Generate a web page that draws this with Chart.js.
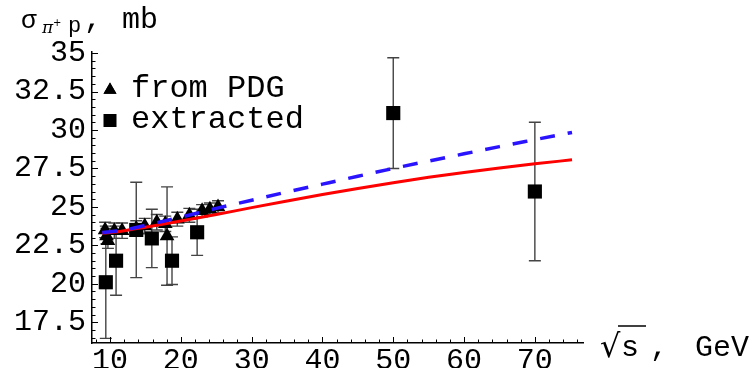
<!DOCTYPE html>
<html>
<head>
<meta charset="utf-8">
<script src="https://cdn.jsdelivr.net/npm/chart.js@4.4.1/dist/chart.umd.min.js"></script>
<style>
  html, body { margin: 0; padding: 0; background: #fff; }
  #wrap { width: 756px; height: 368px; }
</style>
</head>
<body>
<div id="wrap"><canvas id="chart" width="756" height="368"></canvas></div>
<script>
// PDG points (triangles)
const pdgX = [9.3, 9.5, 9.7, 10.6, 11.7, 13.7, 14.9, 16.6, 17.8, 18.05, 19.5, 21.2, 23.0, 24.1, 25.25];
const pdgY = [23.5, 23.1, 22.8, 23.45, 23.45, 23.6, 23.75, 24.0, 23.9, 23.1, 24.2, 24.45, 24.75, 24.85, 25.0];
const pdgErr = [0.5, 0.5, 0.5, 0.5, 0.5, 0.5, 0.5, 0.5, 0.5, 3.2, 0.45, 0.45, 0.4, 0.4, 0.4];

// extracted points (squares)
const extX = [9.4, 10.85, 13.7, 15.9, 18.75, 22.3, 50, 70];
const extY = [20.1, 21.5, 23.5, 22.95, 21.5, 23.35, 31.1, 26.0];
const extErr = [3.65, 2.25, 3.1, 1.9, 1.55, 1.5, 3.6, 4.5];

// fit curves
const curveX = [8.9, 10, 12, 15, 20, 25, 30, 35, 40, 45, 50, 55, 60, 65, 70, 75.25];
const redY = [23.3, 23.33, 23.45, 23.68, 24.08, 24.5, 24.95, 25.38, 25.8, 26.2, 26.57, 26.92, 27.24, 27.53, 27.8, 28.06];
const blueY = [23.33, 23.38, 23.5, 23.8, 24.33, 24.9, 25.43, 25.97, 26.48, 26.99, 27.5, 27.98, 28.45, 28.92, 29.37, 29.84];

const xTicks = [10, 20, 30, 40, 50, 60, 70];
const yTicks = [17.5, 20, 22.5, 25, 27.5, 30, 32.5, 35];

const mono = '"Liberation Mono", "DejaVu Sans Mono", monospace';
const blue = '#2a14ff';
const red = '#ff0000';

function pts(xs, ys) { return xs.map((x, i) => ({ x: x, y: ys[i] })); }

const extras = {
  id: 'extras',
  beforeDatasetsDraw(chart) {
    const ctx = chart.ctx, xs = chart.scales.x, ys = chart.scales.y;
    function bars(X, Y, E, cap) {
      ctx.save();
      ctx.strokeStyle = '#444';
      ctx.lineWidth = 1.4;
      X.forEach((x, i) => {
        const px = xs.getPixelForValue(x);
        const top = ys.getPixelForValue(Y[i] + E[i]);
        const bot = ys.getPixelForValue(Y[i] - E[i]);
        ctx.beginPath();
        ctx.moveTo(px, top); ctx.lineTo(px, bot);
        ctx.moveTo(px - cap, top); ctx.lineTo(px + cap, top);
        ctx.moveTo(px - cap, bot); ctx.lineTo(px + cap, bot);
        ctx.stroke();
      });
      ctx.restore();
    }
    bars(pdgX, pdgY, pdgErr, 6);
    bars(extX, extY, extErr, 6);
  },
  afterDraw(chart) {
    const ctx = chart.ctx, xs = chart.scales.x, ys = chart.scales.y;
    const a = chart.chartArea;
    ctx.save();
    // inward ticks
    ctx.strokeStyle = '#000';
    ctx.lineWidth = 1;
    ctx.beginPath();
    for (let v = 8; v <= 76; v += 2) {
      const px = Math.round(xs.getPixelForValue(v)) + 0.5;
      const len = v % 10 === 0 ? 6 : 3.5;
      ctx.moveTo(px, a.bottom); ctx.lineTo(px, a.bottom - len);
    }
    for (let v = 16.5; v <= 35; v += 0.5) {
      const py = Math.round(ys.getPixelForValue(v)) + 0.5;
      const len = (v * 2) % 5 === 0 ? 6 : 3.5;
      ctx.moveTo(a.left, py); ctx.lineTo(a.left + len, py);
    }
    ctx.stroke();

    // legend
    const ds = chart.data.datasets;
    const lx = a.left + 18;
    Chart.helpers.drawPoint(ctx, { pointStyle: 'triangle', radius: 7.5, borderWidth: 0 }, lx, 90);
    ctx.fillStyle = '#000';
    ctx.fill();
    ctx.fillRect(lx - 6.5, 114, 13, 13);
    ctx.fillStyle = '#000';
    ctx.font = '32px ' + mono;
    ctx.textBaseline = 'alphabetic';
    ctx.textAlign = 'left';
    ctx.fillText(ds[3].label, 131, 97);
    ctx.fillText(ds[2].label, 131, 128);

    // y title: sigma_{pi+ p}, mb
    ctx.font = '26px ' + mono;
    ctx.fillText('σ', 21, 28);
    ctx.font = 'italic 17px "DejaVu Serif", serif';
    ctx.fillText('π', 42, 33);
    ctx.font = '10px "DejaVu Sans", sans-serif';
    ctx.fillText('+', 53, 26);
    ctx.font = '22px ' + mono;
    ctx.fillText('p', 68, 32);
    ctx.font = '30px ' + mono;
    ctx.fillText(',', 84, 28);
    ctx.fillText('mb', 122, 28);

    // x title: sqrt(s), GeV
    ctx.font = '32px "DejaVu Sans", sans-serif';
    ctx.fillText('√', 600, 357);
    ctx.lineWidth = 1.5;
    ctx.beginPath();
    ctx.moveTo(618, 326); ctx.lineTo(646, 326);
    ctx.stroke();
    ctx.font = '30px ' + mono;
    ctx.fillText('s', 621, 356);
    ctx.fillText(',', 650, 356);
    ctx.fillText('GeV', 695, 356);
    ctx.restore();
  }
};

new Chart(document.getElementById('chart'), {
  type: 'scatter',
  data: {
    datasets: [
      {
        type: 'line',
        label: 'fit 2',
        data: pts(curveX, blueY),
        borderColor: blue,
        borderWidth: 3.5,
        borderDash: [15, 13],
        pointRadius: 0,
        cubicInterpolationMode: 'monotone',
        fill: false,
        order: 1
      },
      {
        type: 'line',
        label: 'fit 1',
        data: pts(curveX, redY),
        borderColor: red,
        borderWidth: 3,
        pointRadius: 0,
        cubicInterpolationMode: 'monotone',
        fill: false,
        order: 2
      },
      {
        label: 'extracted',
        data: pts(extX, extY),
        pointStyle: 'rect',
        pointRadius: 10,
        backgroundColor: '#000',
        borderWidth: 0,
        order: 3
      },
      {
        label: 'from PDG',
        data: pts(pdgX, pdgY),
        pointStyle: 'triangle',
        pointRadius: 8.5,
        backgroundColor: '#000',
        borderWidth: 0,
        order: 4
      }
    ]
  },
  plugins: [extras],
  options: {
    responsive: false,
    animation: false,
    devicePixelRatio: 1,
    layout: { padding: { top: 52, right: 173, left: 0, bottom: 0 } },
    plugins: {
      legend: { display: false },
      tooltip: { enabled: false }
    },
    scales: {
      x: {
        type: 'linear',
        min: 7.45,
        max: 76.8,
        afterFit: function(s) { s.height = 25; },
        afterBuildTicks: function(s) { s.ticks = xTicks.map(v => ({ value: v })); },
        grid: { display: false, drawTicks: false },
        border: { display: true, color: '#000', width: 1.5 },
        ticks: {
          color: '#000',
          font: { family: mono, size: 30 },
          padding: 0,
          maxRotation: 0,
          autoSkip: false,
          callback: function(v) { return String(v); }
        }
      },
      y: {
        type: 'linear',
        min: 16.15,
        max: 35.07,
        afterFit: function(s) { s.width = 92; },
        afterBuildTicks: function(s) { s.ticks = yTicks.map(v => ({ value: v })); },
        grid: { display: false, drawTicks: false },
        border: { display: true, color: '#000', width: 1.5 },
        ticks: {
          color: '#000',
          font: { family: mono, size: 30 },
          padding: 6,
          autoSkip: false,
          callback: function(v) { return String(v); }
        }
      }
    }
  }
});
</script>
</body>
</html>
